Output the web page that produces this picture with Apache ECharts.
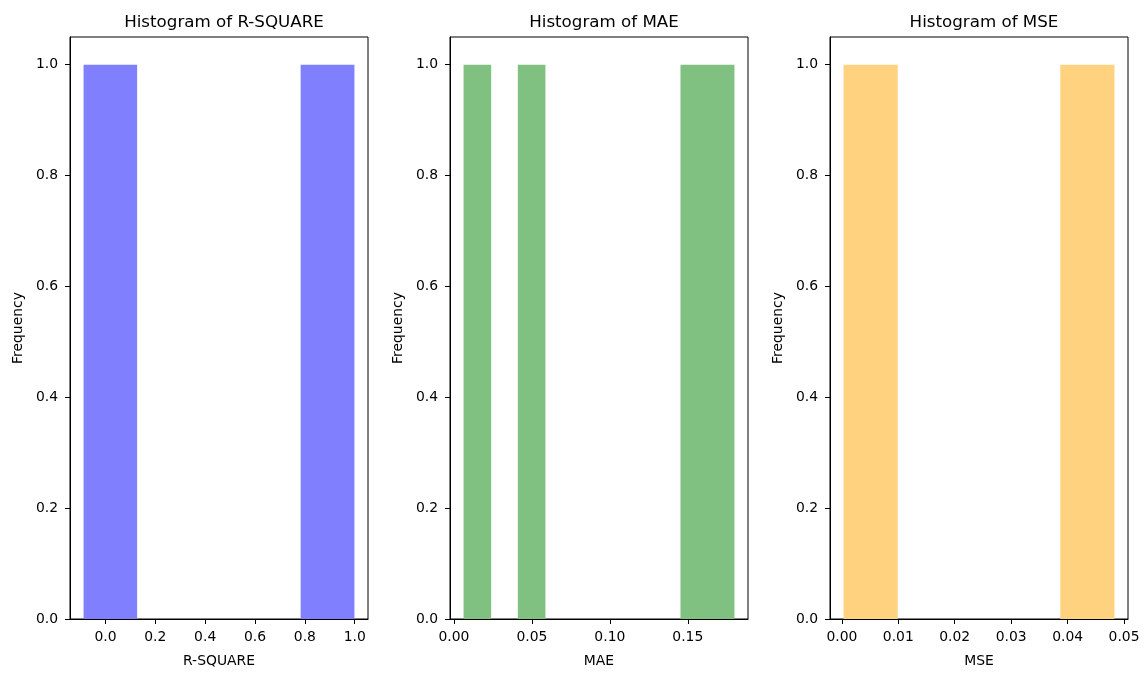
<!DOCTYPE html>
<html>
<head>
<meta charset="utf-8">
<script src="https://cdn.jsdelivr.net/npm/echarts@6/dist/echarts.min.js"></script>
<style>
html,body{margin:0;padding:0;background:#fff;}
#chart{width:1148px;height:673px;}
</style>
</head>
<body>
<div id="chart"></div>
<script>
// Each bar: [bin start, bin end, frequency]
const rsquareBars = [[-0.088, 0.127, 1], [0.783, 0.999, 1]];
const maeBars = [[0.0062, 0.0239, 1], [0.041, 0.0587, 1], [0.1453, 0.1799, 1]];
const mseBars = [[0.0003, 0.0099, 1], [0.0387, 0.0483, 1]];

const panelTitles = ['Histogram of R-SQUARE', 'Histogram of MAE', 'Histogram of MSE'];
const xNames = ['R-SQUARE', 'MAE', 'MSE'];
const xRanges = [[-0.1424, 1.0534], [-0.0025, 0.1886], [-0.0021, 0.0507]];
const xTicks = [
  [0.0, 0.2, 0.4, 0.6, 0.8, 1.0],
  [0.00, 0.05, 0.10, 0.15],
  [0.00, 0.01, 0.02, 0.03, 0.04, 0.05]
];
const xDecimals = [1, 2, 2];
const yTicks = [0.0, 0.2, 0.4, 0.6, 0.8, 1.0];
const yMax = 1.05;
const colors = ['#8080ff', '#80c080', '#ffd280'];
const allBars = [rsquareBars, maeBars, mseBars];

const FONT = 'DejaVu Sans';
const lefts = [70, 450, 830];
const gridW = 298;
const gridTop = 37;
const gridH = 582;

const chart = echarts.init(document.getElementById('chart'), null, {renderer: 'canvas'});

const grids = [], xAxes = [], yAxes = [], series = [], titles = [];
for (let i = 0; i < 3; i++) {
  grids.push({left: lefts[i], top: gridTop, width: gridW, height: gridH,
    show: true, borderColor: '#000', borderWidth: 1, backgroundColor: 'transparent', containLabel: false});
  titles.push({text: panelTitles[i], left: lefts[i] + gridW / 2, top: 9, textAlign: 'center',
    textStyle: {fontFamily: FONT, fontSize: 16.7, fontWeight: 'normal', color: '#000'}});
  const dec = xDecimals[i];
  xAxes.push({
    type: 'value', gridIndex: i, min: xRanges[i][0], max: xRanges[i][1],
    name: xNames[i], nameLocation: 'middle', nameGap: 35,
    nameTextStyle: {fontFamily: FONT, fontSize: 13.9, color: '#000'},
    axisLine: {show: true, onZero: false, lineStyle: {color: '#000', width: 1}},
    axisTick: {show: true, length: 5, inside: false, customValues: xTicks[i], lineStyle: {color: '#000'}},
    axisLabel: {show: true, margin: 11, customValues: xTicks[i], fontFamily: FONT, fontSize: 13.9, color: '#000',
      formatter: v => Number(v).toFixed(dec)},
    splitLine: {show: false}
  });
  yAxes.push({
    type: 'value', gridIndex: i, min: 0, max: yMax,
    name: 'Frequency', nameLocation: 'middle', nameGap: 45,
    nameTextStyle: {fontFamily: FONT, fontSize: 13.9, color: '#000'},
    axisLine: {show: true, onZero: false, lineStyle: {color: '#000', width: 1}},
    axisTick: {show: true, length: 5, customValues: yTicks, lineStyle: {color: '#000'}},
    axisLabel: {show: true, margin: 12, customValues: yTicks, fontFamily: FONT, fontSize: 13.9, color: '#000',
      formatter: v => Number(v).toFixed(1)},
    splitLine: {show: false}
  });
  const col = colors[i];
  series.push({
    type: 'custom', xAxisIndex: i, yAxisIndex: i,
    data: allBars[i],
    encode: {x: [0, 1], y: 2},
    renderItem: function (params, api) {
      const x0 = api.value(0), x1 = api.value(1), y = api.value(2);
      const pTop = api.coord([x0, y]);
      const pBot = api.coord([x1, 0]);
      return {type: 'rect',
        shape: {x: pTop[0], y: pTop[1], width: pBot[0] - pTop[0], height: pBot[1] - pTop[1]},
        style: {fill: col}};
    }
  });
}

chart.setOption({
  animation: false,
  backgroundColor: '#fff',
  title: titles,
  grid: grids,
  xAxis: xAxes,
  yAxis: yAxes,
  series: series
});
</script>
</body>
</html>
